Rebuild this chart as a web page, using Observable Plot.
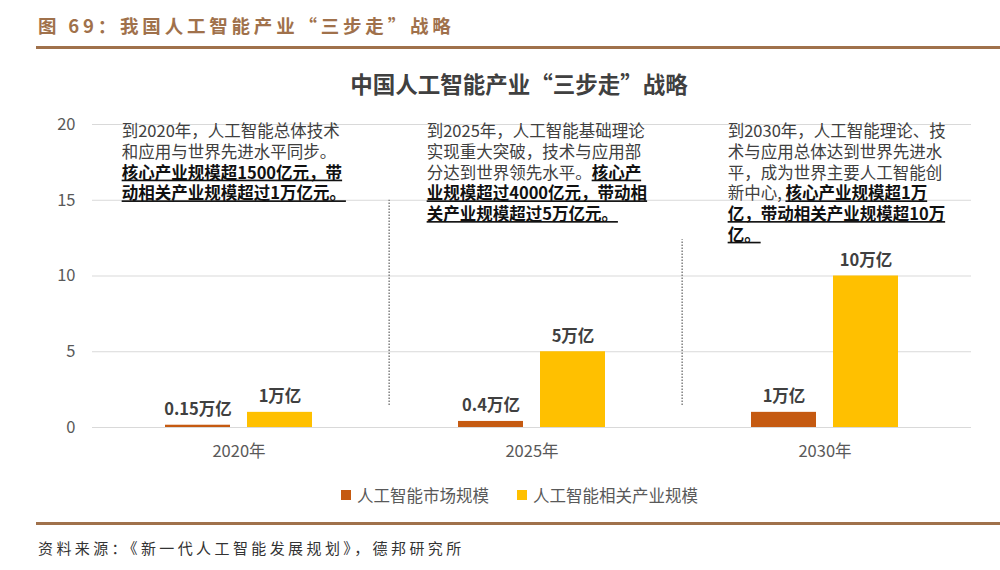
<!DOCTYPE html>
<html><head><meta charset="utf-8">
<script src="https://cdn.jsdelivr.net/npm/d3@7"></script>
<script src="https://cdn.jsdelivr.net/npm/@observablehq/plot@0.6"></script>
<style>
body{margin:0;background:#fff;font-family:"Noto Sans CJK SC","Noto Sans",sans-serif;}
#page{position:relative;width:1000px;height:570px;overflow:hidden;background:#fff;}
#hdr{position:absolute;left:38px;top:13px;font-size:18.5px;line-height:24px;font-weight:bold;letter-spacing:3.8px;color:#a0714b;white-space:nowrap;}
.rule{position:absolute;left:36px;width:964px;height:3px;background:#a0714b;}
#ctitle{position:absolute;left:0;width:1038px;top:70px;text-align:center;font-size:22.5px;line-height:26px;font-weight:bold;color:#404040;white-space:nowrap;}
#chart{position:absolute;left:0;top:50px;}
#legend{position:absolute;left:341px;top:483px;font-size:16.5px;line-height:24px;color:#595959;white-space:nowrap;display:flex;align-items:center;}
#legend .sw{display:inline-block;width:10px;height:10px;margin-right:6px;}
#cap{position:absolute;left:38px;top:537px;font-size:15px;line-height:22px;letter-spacing:3.4px;color:#333;white-space:nowrap;}
</style></head><body><div id="page">
<div id="hdr">图 69：我国人工智能产业“三步走”战略</div>
<div class="rule" style="top:46px"></div>
<div id="ctitle">中国人工智能产业“三步走”战略</div>
<div id="chart"></div>
<div id="legend"></div>
<div class="rule" style="top:522px"></div>
<div id="cap">资料来源：《新一代人工智能发展规划》，德邦研究所</div>
</div>
<script>
// ---- data ----
const years = ["2020年", "2025年", "2030年"];
const seriesNames = ["人工智能市场规模", "人工智能相关产业规模"];
const marketSize = [0.15, 0.4, 1];
const relatedSize = [1, 5, 10];
const marketLabels = ["0.15万亿", "0.4万亿", "1万亿"];
const relatedLabels = ["1万亿", "5万亿", "10万亿"];
const yTicks = [0, 5, 10, 15, 20];
const notes = [
  "到2020年，人工智能总体技术\n和应用与世界先进水平同步。\n**核心产业规模超1500亿元，带**\n**动相关产业规模超过1万亿元。**",
  "到2025年，人工智能基础理论\n实现重大突破，技术与应用部\n分达到世界领先水平。**核心产**\n**业规模超过4000亿元，带动相**\n**关产业规模超过5万亿元。**",
  "到2030年，人工智能理论、技\n术与应用总体达到世界先进水\n平，成为世界主要人工智能创\n新中心, **核心产业规模超1万**\n**亿，带动相关产业规模超10万**\n**亿。**"
];
const colors = ["#c55a11", "#ffc000"];

// ---- table ----
const rows = years.flatMap((yr, i) => [
  {year: yr, series: seriesNames[0], value: marketSize[i], label: marketLabels[i]},
  {year: yr, series: seriesNames[1], value: relatedSize[i], label: relatedLabels[i]}
]);

// ---- layout ----
const W = 1000, H = 430, mL = 91, mR = 28, mT = 74, mB = 53;
const facetW = (W - mL - mR) / years.length;
const pIn = 0.205, pOut = 0.872;
const step = facetW / (seriesNames.length - pIn + 2 * pOut);
const firstCenter = pOut * step + (1 - pIn) * step / 2;
const noteLeft = [29, 41, 49];
const yMax = d3.max(yTicks);

const noteMarks = notes.map((t, i) => Plot.text([{year: years[i], series: seriesNames[0], text: t}], {
  fx: "year", x: "series", y: () => yMax, text: "text",
  textAnchor: "start", lineAnchor: "top", lineHeight: 1.255,
  dx: noteLeft[i] - firstCenter, dy: -2,
  fontSize: 16.5, fill: "#404040"
}));

const dividers = [{year: years[1], top: 15.0}, {year: years[2], top: 12.4}];

const plot = Plot.plot({
  width: W, height: H,
  marginLeft: mL, marginRight: mR, marginTop: mT, marginBottom: mB,
  style: {fontFamily: '"Noto Sans CJK SC","Noto Sans",sans-serif', fontSize: "16.5px", color: "#595959", background: "transparent"},
  fx: {domain: years, padding: 0, label: null, tickSize: 0, tickPadding: 18, axis: "bottom"},
  x: {domain: seriesNames, paddingInner: pIn, paddingOuter: pOut, axis: null},
  y: {domain: [0, yMax], ticks: yTicks, label: null, tickSize: 0, tickPadding: 17},
  color: {domain: seriesNames, range: colors},
  marks: [
    Plot.ruleY(yTicks, {y: d => d, stroke: "#d9d9d9", strokeWidth: 1}),
    Plot.ruleX(dividers, {fx: "year", x: () => seriesNames[0], y1: () => 1.45, y2: "top",
      dx: 3.5 - firstCenter, stroke: "#808080", strokeWidth: 1.5, strokeDasharray: "1.5,1.5"}),
    Plot.barY(rows, {fx: "year", x: "series", y: "value", fill: "series"}),
    Plot.text(rows, {fx: "year", x: "series", y: "value", text: "label", lineAnchor: "bottom",
      dy: -10, fontSize: 16.5, fontWeight: "bold", fill: "#404040"}),
    ...noteMarks
  ]
});
document.getElementById("chart").appendChild(plot);

// bold/underlined segments
const NS = "http://www.w3.org/2000/svg";
plot.querySelectorAll("text, tspan").forEach(el => {
  if (el.children.length) return;
  const s = el.textContent;
  if (!s.includes("**")) return;
  el.textContent = "";
  s.split("**").forEach((part, i) => {
    if (!part) return;
    const t = document.createElementNS(NS, "tspan");
    t.textContent = part;
    if (i % 2) {
      t.setAttribute("font-weight", "bold");
      t.setAttribute("fill", "#111");
      t.style.textDecoration = "underline";
    }
    el.appendChild(t);
  });
});

// legend
const lg = document.getElementById("legend");
seriesNames.forEach((n, i) => {
  const sw = document.createElement("span");
  sw.className = "sw"; sw.style.background = colors[i];
  const tx = document.createElement("span");
  tx.textContent = n;
  if (i === 0) tx.style.marginRight = "28px";
  lg.appendChild(sw); lg.appendChild(tx);
});
</script>
</body></html>
